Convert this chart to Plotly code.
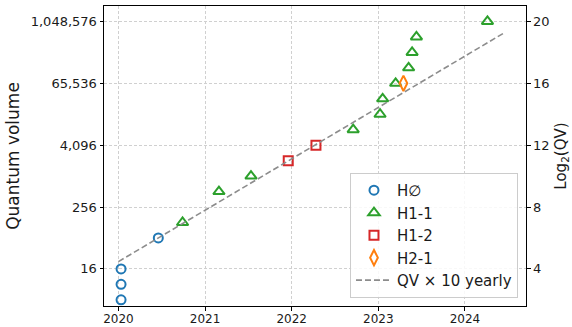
import numpy as np
import plotly.graph_objects as go

# Quantum volume records by system (decimal year, QV)
h0_year = [2020.03, 2020.03, 2020.03, 2020.46]
h0_qv = [4, 8, 16, 64]

h11_year = [2020.74, 2021.16, 2021.53, 2022.71, 2023.02, 2023.05,
            2023.20, 2023.35, 2023.39, 2023.44, 2024.26]
h11_qv = [128, 512, 1024, 8192, 16384, 32768,
          65536, 131072, 262144, 524288, 1048576]

h12_year = [2021.96, 2022.28]
h12_qv = [2048, 4096]

h21_year = [2023.29]
h21_qv = [65536]

# Trend: 10x per year, anchored on the mid-2020 record
trend_anchor_year = 2020.46
trend_anchor_qv = 64
trend_year = [2020.0, 2024.46]

qv_ticks = [16, 256, 4096, 65536, 1048576]
log2_ticks = [4, 8, 12, 16, 20]
year_ticks = [2020, 2021, 2022, 2023, 2024]

trend_year_arr = np.array(trend_year)
trend_qv = trend_anchor_qv * 10.0 ** (trend_year_arr - trend_anchor_year)

y_lo, y_hi = 1.6, 21.0  # in log2 units
x_lo, x_hi = 2019.833, 2024.705

FONT = "DejaVu Sans"
TXT = "#1a1a1a"

fig = go.Figure()

fig.add_trace(go.Scatter(
    x=h0_year, y=h0_qv, mode="markers", name="H∅",
    marker=dict(symbol="circle-open", size=9, color="#1f77b4",
                line=dict(width=2, color="#1f77b4"))))
fig.add_trace(go.Scatter(
    x=h11_year, y=h11_qv, mode="markers", name="H1-1",
    marker=dict(symbol="triangle-up-open", size=10, color="#2ca02c",
                line=dict(width=2, color="#2ca02c"))))
fig.add_trace(go.Scatter(
    x=h12_year, y=h12_qv, mode="markers", name="H1-2",
    marker=dict(symbol="square-open", size=9, color="#d62728",
                line=dict(width=2, color="#d62728"))))
fig.add_trace(go.Scatter(
    x=h21_year, y=h21_qv, mode="markers", name="H2-1",
    marker=dict(symbol="diamond-tall-open", size=11, color="#ff7f0e",
                line=dict(width=2, color="#ff7f0e"))))
fig.add_trace(go.Scatter(
    x=trend_year, y=trend_qv, mode="lines", name="QV × 10 yearly",
    line=dict(color="#8c8c8c", width=1.6, dash="6px,3px")))

# Same trend on the log2 axis (transparent) so the right axis is drawn
fig.add_trace(go.Scatter(
    x=trend_year, y=np.log2(trend_qv), yaxis="y2", mode="lines",
    line=dict(width=0), opacity=0, showlegend=False, hoverinfo="skip"))

grid = dict(showgrid=True, gridcolor="#d0d0d0", griddash="3px,2px", gridwidth=0.8)

fig.update_layout(
    template="none",
    width=572, height=327,
    margin=dict(l=104, r=46, t=6, b=21),
    paper_bgcolor="white", plot_bgcolor="white",
    font=dict(family=FONT, size=13, color=TXT),
    xaxis=dict(range=[x_lo, x_hi], tickvals=year_ticks,
               ticktext=[str(v) for v in year_ticks], automargin=False,
               ticks="outside", ticklen=3.5, tickcolor="black",
               ticklabelstandoff=-2,
               showline=True, linecolor="black", linewidth=1, mirror=True,
               zeroline=False, tickfont=dict(size=12), **grid),
    yaxis=dict(type="log", range=[y_lo * np.log10(2), y_hi * np.log10(2)],
               tickvals=qv_ticks, ticktext=[f"{v:,}" for v in qv_ticks],
               automargin=False,
               ticks="outside", ticklen=3.5, tickcolor="black",
               showline=True, linecolor="black", linewidth=1, mirror=False,
               zeroline=False, tickfont=dict(size=13),
               title=dict(text="Quantum volume", font=dict(size=17), standoff=6),
               **grid),
    yaxis2=dict(overlaying="y", side="right", range=[y_lo, y_hi],
                tickvals=log2_ticks, ticktext=[str(v) for v in log2_ticks],
                automargin=False,
                ticks="outside", ticklen=3.5, tickcolor="black",
                showline=True, linecolor="black", linewidth=1,
                showgrid=False, zeroline=False, tickfont=dict(size=13),
                title=dict(text="Log<sub>2</sub>(QV)", font=dict(size=15), standoff=6)),
    legend=dict(x=0.981, y=0.027, xanchor="right", yanchor="bottom",
                bgcolor="rgba(255,255,255,0.85)", bordercolor="#cccccc",
                borderwidth=1, font=dict(size=15, color=TXT),
                itemwidth=36, tracegroupgap=0),
    showlegend=True,
)

fig.write_html("out.html")
